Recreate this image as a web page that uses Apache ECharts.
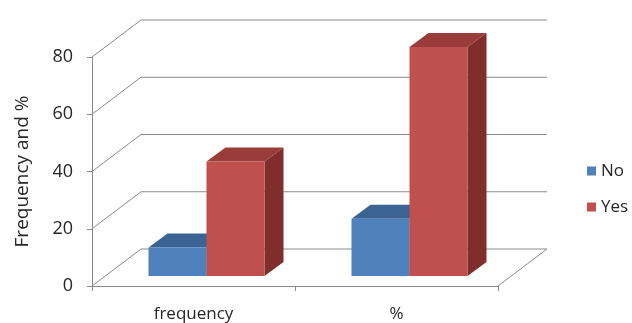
<!DOCTYPE html>
<html>
<head>
<meta charset="utf-8">
<script src="https://cdn.jsdelivr.net/npm/echarts@6/dist/echarts.min.js"></script>
<style>
  html, body { margin: 0; padding: 0; background: #fff; }
  #chart { width: 632px; height: 323px; }
</style>
</head>
<body>
<div id="chart"></div>
<script>
// Chart data
var categories = ['frequency', '%'];
var noValues = [10, 20];
var yesValues = [40, 80];
var yTicks = [0, 20, 40, 60, 80];
var seriesNames = ['No', 'Yes'];

// Pseudo-3D look: depth of the back wall, bar set-back and bar depth (px)
var WALL = [49, -37];
var BAR_SHIFT = [13, -10];
var BAR_DEPTH = [19, -14];
var GRID_COLOR = '#8a8a8a';
var TEXT_COLOR = '#262626';
var FONT = '"Open Sans", "Liberation Sans", sans-serif';

var palette = {
  No:  { front: '#4f81bd', top: '#3b6495', side: '#385d8a' },
  Yes: { front: '#c0504d', top: '#9a3c39', side: '#7f2e2c' }
};

function wallItem(params, api) {
  var cs = params.coordSys;
  var y = api.coord([0, api.value(0)])[1];
  var x0 = cs.x, x1 = cs.x + cs.width;
  var children = [{
    type: 'polyline',
    shape: { points: [[x0, y], [x0 + WALL[0], y + WALL[1]], [x1 + WALL[0], y + WALL[1]]] },
    style: { stroke: GRID_COLOR, lineWidth: 1, fill: null }
  }];
  if (api.value(0) === 0) {
    children.push({
      type: 'line',
      shape: { x1: x1, y1: y, x2: x1 + WALL[0], y2: y + WALL[1] },
      style: { stroke: GRID_COLOR, lineWidth: 1 }
    });
  }
  return { type: 'group', children: children };
}

function barRenderer(seriesIndex, colors) {
  return function (params, api) {
    var cat = api.value(0);
    var top = api.coord([cat, api.value(1)]);
    var base = api.coord([cat, 0]);
    var band = api.size([1, 0])[0];
    var w = band / 3.5;
    var left = top[0] - w + seriesIndex * w + BAR_SHIFT[0];
    var right = left + w;
    var yt = top[1] + BAR_SHIFT[1];
    var yb = base[1] + BAR_SHIFT[1];
    var dx = BAR_DEPTH[0], dy = BAR_DEPTH[1];
    return {
      type: 'group',
      children: [
        { type: 'polygon', shape: { points: [[right, yt], [right + dx, yt + dy], [right + dx, yb + dy], [right, yb]] },
          style: { fill: colors.side } },
        { type: 'polygon', shape: { points: [[left, yt], [left + dx, yt + dy], [right + dx, yt + dy], [right, yt]] },
          style: { fill: colors.top } },
        { type: 'rect', shape: { x: left, y: yt, width: w, height: yb - yt },
          style: { fill: colors.front } }
      ]
    };
  };
}

var chart = echarts.init(document.getElementById('chart'), null, { renderer: 'canvas' });

chart.setOption({
  animation: false,
  backgroundColor: '#ffffff',
  textStyle: { fontFamily: FONT },
  grid: { left: 92, right: 134, top: 57, bottom: 36 },
  legend: {
    orient: 'vertical',
    left: 582,
    top: 156,
    itemWidth: 9,
    itemHeight: 9,
    itemGap: 16,
    icon: 'rect',
    data: seriesNames,
    textStyle: { fontFamily: FONT, fontSize: 17, color: TEXT_COLOR, lineHeight: 20 }
  },
  xAxis: {
    type: 'category',
    data: categories,
    axisLine: { show: true, lineStyle: { color: GRID_COLOR, width: 1 } },
    axisTick: { show: true, length: 5, lineStyle: { color: GRID_COLOR } },
    axisLabel: { fontFamily: FONT, fontSize: 17, color: TEXT_COLOR, margin: 20 },
    splitLine: { show: false }
  },
  yAxis: {
    type: 'value',
    min: 0,
    max: 80,
    interval: 20,
    name: 'Frequency and %',
    nameLocation: 'middle',
    nameRotate: 90,
    nameGap: 60,
    nameTextStyle: { fontFamily: FONT, fontSize: 19, color: TEXT_COLOR },
    axisLine: { show: true, lineStyle: { color: GRID_COLOR, width: 1 } },
    axisTick: { show: true, length: 5, lineStyle: { color: GRID_COLOR } },
    axisLabel: { fontFamily: FONT, fontSize: 18, color: TEXT_COLOR, margin: 19 },
    splitLine: { show: false }
  },
  series: [
    {
      type: 'custom',
      name: 'walls',
      silent: true,
      clip: false,
      z: 1,
      renderItem: wallItem,
      encode: { y: 0 },
      data: yTicks.map(function (v) { return [v]; })
    },
    {
      type: 'custom',
      name: seriesNames[0],
      clip: false,
      z: 2,
      itemStyle: { color: palette.No.front },
      renderItem: barRenderer(0, palette.No),
      encode: { x: 0, y: 1 },
      data: noValues.map(function (v, i) { return [i, v]; })
    },
    {
      type: 'custom',
      name: seriesNames[1],
      clip: false,
      z: 3,
      itemStyle: { color: palette.Yes.front },
      renderItem: barRenderer(1, palette.Yes),
      encode: { x: 0, y: 1 },
      data: yesValues.map(function (v, i) { return [i, v]; })
    }
  ]
});
</script>
</body>
</html>
